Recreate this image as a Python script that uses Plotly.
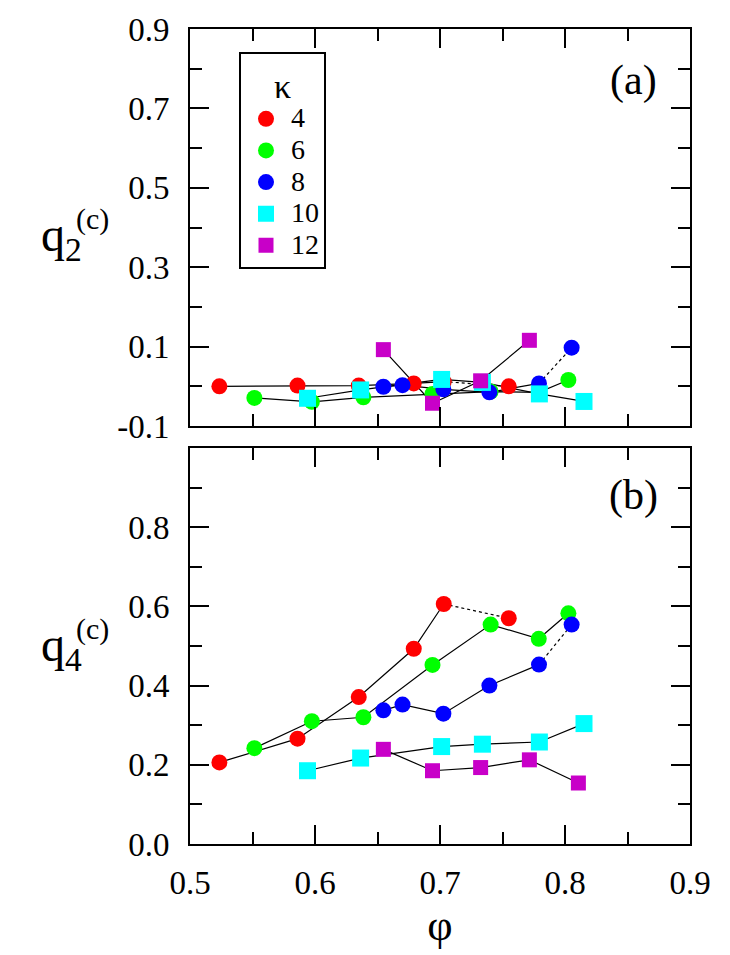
import plotly.graph_objects as go

# ---------------- data ----------------
kappas = ["4", "6", "8", "10", "12"]
colors = ["#FF0000", "#00FF00", "#0000FF", "#00FFFF", "#C800C8"]
symbols = ["circle", "circle", "circle", "square", "square"]
msizes = [16, 16, 16, 17, 15]

phi_4 = [0.5235, 0.586, 0.635, 0.679, 0.703, 0.755]
q2_4 = [0.0, 0.002, 0.002, 0.0075, 0.012, 0.0]
q4_4 = [0.206, 0.266, 0.371, 0.493, 0.606, 0.570]

phi_6 = [0.5515, 0.5975, 0.6387, 0.694, 0.7405, 0.779, 0.8027]
q2_6 = [-0.029, -0.039, -0.0275, -0.019, -0.013, -0.015, 0.016]
q4_6 = [0.242, 0.310, 0.320, 0.452, 0.554, 0.518, 0.5825]

phi_8 = [0.6547, 0.670, 0.7027, 0.7395, 0.7792, 0.8053]
q2_8 = [-0.001, 0.003, -0.0075, -0.015, 0.0075, 0.0975]
q4_8 = [0.3375, 0.352, 0.329, 0.400, 0.453, 0.554]

phi_10 = [0.594, 0.6365, 0.7013, 0.7339, 0.7795, 0.8152]
q2_10 = [-0.03, -0.009, 0.0175, 0.01, -0.019, -0.038]
q4_10 = [0.185, 0.217, 0.246, 0.252, 0.2575, 0.304]

phi_12 = [0.6547, 0.694, 0.7325, 0.7715, 0.8107]
q2_12 = [0.0925, -0.0425, 0.014, 0.116, None]
q4_12 = [0.239, 0.185, 0.193, 0.2125, 0.154]

# number of leading points joined by a solid line (rest dotted)
solid_count = [5, 7, 5, 6, 5]

x_ticks = [0.5, 0.6, 0.7, 0.8, 0.9]
x_ticktext = ["0.5", "0.6", "0.7", "0.8", "0.9"]
ya_ticks = [-0.1, 0.1, 0.3, 0.5, 0.7, 0.9]
ya_ticktext = ["-0.1", "0.1", "0.3", "0.5", "0.7", "0.9"]
yb_ticks = [0.0, 0.2, 0.4, 0.6, 0.8]
yb_ticktext = ["0.0", "0.2", "0.4", "0.6", "0.8"]

series = [
    (phi_4, q2_4, q4_4),
    (phi_6, q2_6, q4_6),
    (phi_8, q2_8, q4_8),
    (phi_10, q2_10, q4_10),
    (phi_12, q2_12, q4_12),
]

FONT = "Liberation Serif"

fig = go.Figure()

# lines first (under all markers)
for i, (phi, qa, qb) in enumerate(series):
    n = solid_count[i]
    for ys, ya in ((qa, "y"), (qb, "y2")):
        xa = "x" if ya == "y" else "x2"
        fig.add_trace(go.Scatter(x=phi[:n], y=ys[:n], mode="lines",
                                 line=dict(color="black", width=1.2),
                                 xaxis=xa, yaxis=ya, showlegend=False, hoverinfo="skip"))
        if n < len(phi):
            fig.add_trace(go.Scatter(x=phi[n - 1:], y=ys[n - 1:], mode="lines",
                                     line=dict(color="black", width=1.2, dash="dot"),
                                     xaxis=xa, yaxis=ya, showlegend=False, hoverinfo="skip"))

# markers
for i, (phi, qa, qb) in enumerate(series):
    mk = dict(color=colors[i], symbol=symbols[i], size=msizes[i], line=dict(width=0))
    fig.add_trace(go.Scatter(x=phi, y=qa, mode="markers", marker=mk,
                             name="<span style='font-size:28px'>" + kappas[i] + "</span>",
                             xaxis="x", yaxis="y", showlegend=True, legendgroup=kappas[i]))
    fig.add_trace(go.Scatter(x=phi, y=qb, mode="markers", marker=mk, name=kappas[i],
                             xaxis="x2", yaxis="y2", showlegend=False, legendgroup=kappas[i]))

axis_common = dict(showline=True, linewidth=2, linecolor="black", mirror="ticks",
                   ticks="inside", ticklen=19, tickwidth=2, tickcolor="black",
                   showgrid=False, zeroline=False,
                   tickfont=dict(family=FONT, size=33, color="black"))

W, H = 730, 955
L, R, T, B = 190, 40, 23, 111
ph = H - T - B


def py(v):
    return (H - B - v) / ph


def px(v):
    return (v - L) / (W - L - R)


fig.update_layout(
    width=W, height=H,
    margin=dict(l=L, r=R, t=T, b=B),
    paper_bgcolor="white", plot_bgcolor="white",
    font=dict(family=FONT, color="black"),
    xaxis=dict(axis_common, domain=[0, 1], anchor="y", range=[0.5, 0.9],
               tickvals=x_ticks, ticktext=x_ticktext, showticklabels=False,
               minor=dict(ticks="inside", ticklen=12, tickwidth=2, tickcolor="black",
                          dtick=0.05, tick0=0.5)),
    yaxis=dict(axis_common, domain=[py(423), 1], anchor="x", range=[-0.1, 0.9],
               tickvals=ya_ticks, ticktext=ya_ticktext, ticklabelstandoff=12,
               minor=dict(ticks="inside", ticklen=12, tickwidth=2, tickcolor="black",
                          dtick=0.1, tick0=-0.1)),
    xaxis2=dict(axis_common, domain=[0, 1], anchor="y2", range=[0.5, 0.9],
                tickvals=x_ticks, ticktext=x_ticktext, ticklabelstandoff=8,
                title=dict(text="φ", font=dict(family=FONT, size=44), standoff=0),
                minor=dict(ticks="inside", ticklen=12, tickwidth=2, tickcolor="black",
                           dtick=0.05, tick0=0.5)),
    yaxis2=dict(axis_common, domain=[0, py(445)], anchor="x2", range=[0, 1.0],
                tickvals=yb_ticks, ticktext=yb_ticktext, ticklabelstandoff=12,
                minor=dict(ticks="inside", ticklen=12, tickwidth=2, tickcolor="black",
                           dtick=0.1, tick0=0.0)),
    legend=dict(x=px(239), y=py(46), xanchor="left", yanchor="top",
                bordercolor="black", borderwidth=2, bgcolor="white",
                font=dict(family=FONT, size=22, color="black"),
                title=dict(text="κ", side="top center", font=dict(family=FONT, size=34)),
                tracegroupgap=0, itemsizing="trace", itemwidth=40,
                entrywidth=57, entrywidthmode="pixels"),
    showlegend=True,
)

annos = [
    dict(text="(a)", x=px(633), y=py(75), size=42),
    dict(text="(b)", x=px(633), y=py(493), size=42),
]
for a in annos:
    fig.add_annotation(text=a["text"], x=a["x"], y=a["y"], xref="paper", yref="paper",
                       showarrow=False, xanchor="center", yanchor="middle",
                       font=dict(family=FONT, size=a["size"], color="black"))

# y-axis titles (horizontal)
for lab, yq, yc in (("2", 234, 214), ("4", 647, 627)):
    fig.add_annotation(text="q<sub>" + lab + "</sub>", x=px(84), y=py(yq), xref="paper", yref="paper",
                       showarrow=False, xanchor="right", yanchor="middle",
                       font=dict(family=FONT, size=48, color="black"))
    fig.add_annotation(text="(c)", x=px(74), y=py(yc), xref="paper", yref="paper",
                       showarrow=False, xanchor="left", yanchor="middle",
                       font=dict(family=FONT, size=30, color="black"))

fig.write_html("out.html")
